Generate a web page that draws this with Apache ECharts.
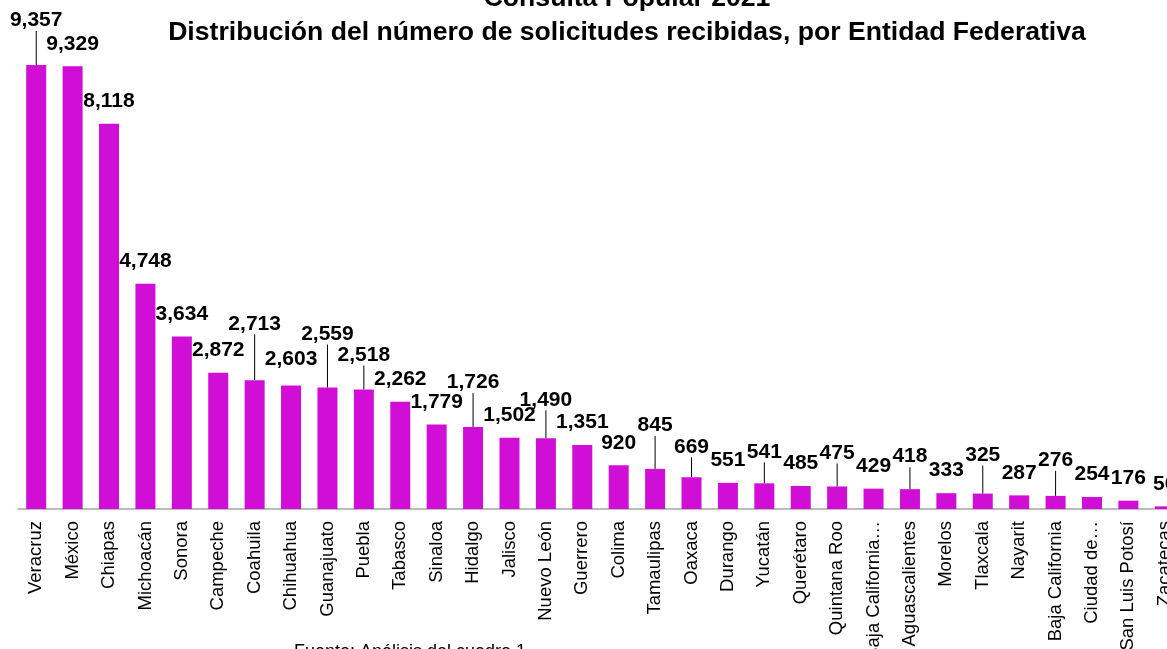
<!DOCTYPE html>
<html>
<head>
<meta charset="utf-8">
<title>Consulta Popular 2021</title>
<script src="https://cdn.jsdelivr.net/npm/echarts@6/dist/echarts.min.js"></script>
<style>
    html, body { margin: 0; padding: 0; background: #fff; }
    #chart { width: 1167px; height: 649px; }
</style>
</head>
<body>
<div id="chart"></div>
<script>
// entidades (tal como aparecen en el eje)
var entidades = [
    'Veracruz', 'México', 'Chiapas', 'Michoacán', 'Sonora', 'Campeche', 'Coahuila', 'Chihuahua',
    'Guanajuato', 'Puebla', 'Tabasco', 'Sinaloa', 'Hidalgo', 'Jalisco', 'Nuevo León', 'Guerrero',
    'Colima', 'Tamaulipas', 'Oaxaca', 'Durango', 'Yucatán', 'Querétaro', 'Quintana Roo', 'Baja California…',
    'Aguascalientes', 'Morelos', 'Tlaxcala', 'Nayarit', 'Baja California', 'Ciudad de…', 'San Luis Potosí', 'Zacatecas'
]
// número de solicitudes recibidas
var solicitudes = [
    9357, 9329, 8118, 4748, 3634, 2872, 2713, 2603,
    2559, 2518, 2262, 1779, 1726, 1502, 1490, 1351,
    920, 845, 669, 551, 541, 485, 475, 429,
    418, 333, 325, 287, 276, 254, 176, 56
]

// desplazamiento vertical de etiquetas (px); las que suben más llevan línea guía
var labelLift = {
    0: 22, 6: 34, 7: 4, 8: 31, 9: 12, 12: 22, 14: 16, 17: 21,
    18: 8, 20: 9, 22: 11, 24: 10, 26: 16, 28: 13
}
var font = 'Liberation Sans, Arial, sans-serif'

var chart = echarts.init(document.getElementById('chart'))

var barData = solicitudes.map(function (v, i) {
    var lift = labelLift[i] || 0
    return {
        value: v,
        labelLine: { show: lift > 6 }
    }
})

var option = {
    animation: false,
    graphic: [
        {
            type: 'text', x: 627, y: -1,
            style: { text: 'Consulta Popular 2021', font: 'bold 26.6px ' + font, fill: '#000', textAlign: 'center', textVerticalAlign: 'middle' }
        },
        {
            type: 'text', x: 627, y: 33,
            style: { text: 'Distribución del número de solicitudes recibidas, por Entidad Federativa', font: 'bold 26.6px ' + font, fill: '#000', textAlign: 'center', textVerticalAlign: 'middle' }
        },
        {
            type: 'text', x: 410, y: 652,
            style: { text: 'Fuente: Análisis del cuadro 1', font: '18px ' + font, fill: '#000', textAlign: 'center', textVerticalAlign: 'middle' }
        }
    ],
    grid: {
        left: 18,
        top: 34.5,
        width: 1165,
        bottom: 140,
        containLabel: false,
        outerBoundsMode: 'none'
    },
    xAxis: {
        type: 'category',
        data: entidades,
        axisTick: { show: false },
        axisLine: { lineStyle: { color: '#a6a6a6', width: 1.5 } },
        axisLabel: {
            interval: 0,
            rotate: 90,
            margin: 12,
            fontSize: 18.5,
            color: '#000',
            fontFamily: font
        }
    },
    yAxis: {
        type: 'value',
        min: 0,
        max: 10000,
        show: false,
        splitLine: { show: false }
    },
    series: [
        {
            type: 'bar',
            data: barData,
            barWidth: 20,
            itemStyle: { color: '#D10ED6' },
            label: {
                show: true,
                position: 'top',
                distance: 12,
                color: '#000',
                fontSize: 21,
                fontWeight: 'bold',
                fontFamily: font,
                formatter: function (p) {
                    return p.value.toLocaleString('en-US')
                }
            },
            labelLine: {
                show: false,
                length2: 0,
                lineStyle: { color: '#000', width: 1 }
            },
            labelLayout: function (params) {
                var lift = labelLift[params.dataIndex] || 0
                return { dy: -lift }
            }
        }
    ]
}

option && chart.setOption(option)
</script>
</body>
</html>
